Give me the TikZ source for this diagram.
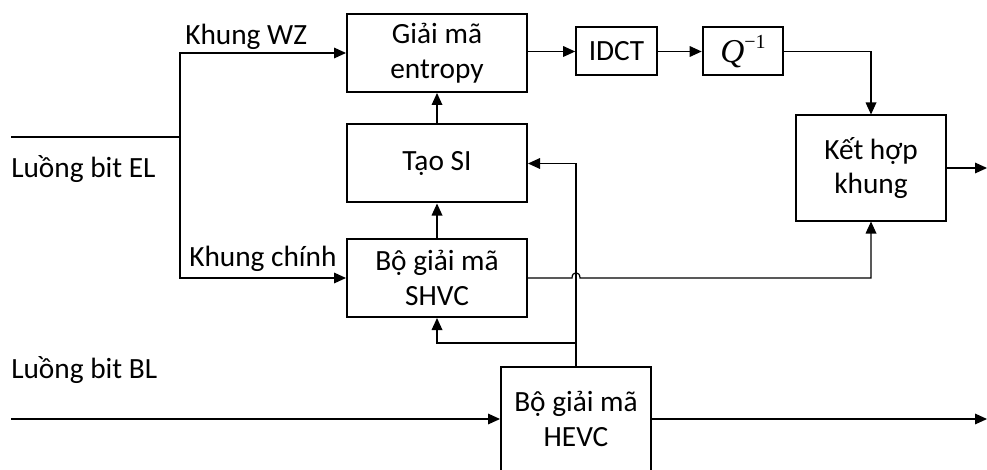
\documentclass[tikz,border=0pt]{standalone}
\usepackage{fontspec}
\setmainfont{Carlito}
\newfontfamily\qfont{Liberation Serif}
\usetikzlibrary{arrows.meta}
\begin{document}
\begin{tikzpicture}[x=0.75pt,y=-0.75pt,
  box/.style={draw,line width=1.5pt,align=center,inner sep=0pt,
    font=\fontsize{22}{26}\selectfont},
  bigbox/.style={box,minimum width=135pt,minimum height=58.5pt},
  smallbox/.style={box,minimum width=60.5pt,minimum height=36pt},
  kbox/.style={box,minimum width=112.5pt,minimum height=78.75pt},
  conn/.style={line width=0.9pt},
  arr/.style={conn,-{Triangle[length=9pt,width=8pt]}},
  lbl/.style={anchor=base west,inner sep=0pt,font=\fontsize{22}{26}\selectfont}]
\useasboundingbox (0,0) rectangle (987,470);
\clip (0,0) rectangle (987,470);
% boxes
\node[bigbox] (ent) at (437,53) {Giải mã\\entropy};
\node[smallbox] (idct) at (616.5,51.5) {IDCT};
\node[smallbox] (q) at (743,51.5) {{\qfont\fontsize{25}{25}\selectfont\itshape Q}\raisebox{0.5em}{\qfont\fontsize{15}{15}\selectfont −1}};
\node[bigbox] (si) at (437,163.5) {Tạo SI};
\node[bigbox] (shvc) at (437,278) {Bộ giải mã\\SHVC};
\node[kbox] (ket) at (871,168) {Kết hợp\\khung};
\node[kbox] (hevc) at (576,419) {Bộ giải mã\\HEVC};
% labels
\node[lbl] (lwz) at (185,45) {Khung WZ};
\node[lbl] (lkc) at (189,266) {Khung chính};
\node[lbl] (lel) at (11,178) {Luồng bit EL};
\node[lbl] (lbl) at (11,378) {Luồng bit BL};
% coordinates
\coordinate (elin) at (11,137);
\coordinate (j) at (180,137);
\coordinate (blin) at (11,419);
\coordinate (blout) at (987,419);
\coordinate (kout) at (987,168);
\coordinate (br) at (576,343);
% connectors
\draw[conn] (elin) -- (j);
\draw[arr] (j) |- (ent.west);
\draw[arr] (j) |- (shvc.west);
\draw[arr] (ent.east |- idct) -- (idct.west);
\draw[arr] (idct) -- (q);
\draw[arr] (q.east) -| (ket.north);
\draw[arr] (ket.east) -- (kout);
\draw[arr] (si) -- (ent);
\draw[arr] (shvc) -- (si);
\draw[arr] (hevc.north) |- (si.east);
\draw[arr] (br) -| (shvc.south);
\draw[arr] (shvc.east) -- (572,278) .. controls (572,271) and (580,271) .. (580,278) -| (ket.south);
\draw[arr] (blin) -- (hevc.west);
\draw[arr] (hevc.east) -- (blout);
\end{tikzpicture}
\end{document}
